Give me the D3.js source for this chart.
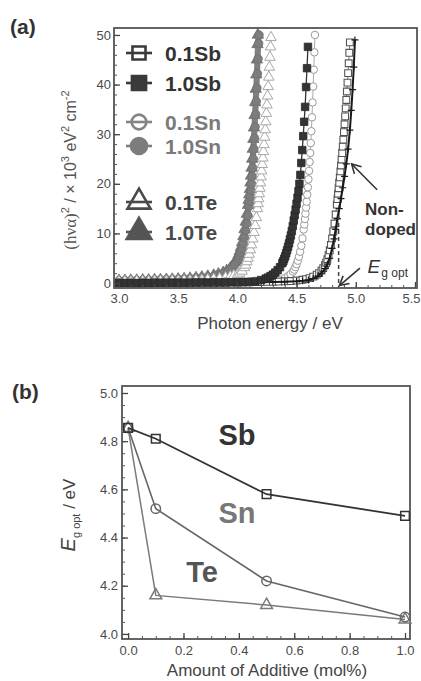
<!DOCTYPE html>
<html>
<head>
<meta charset="utf-8">
<script src="https://cdn.jsdelivr.net/npm/d3@7"></script>
<style>
  body { margin: 0; background: #fff; }
  svg { display: block; }
  text { font-family: "Liberation Sans", Arial, sans-serif; }
</style>
</head>
<body>
<svg id="chart" width="421" height="681"></svg>
<script>
////////////////////////////////////////////////////////////////////////
//
// Data
//
////////////////////////////////////////////////////////////////////////

// panel (a): [photon energy eV, (hva)^2 x 10^3]
var te10Data = [[3.00,0.5],[3.05,0.5],[3.10,0.55],[3.15,0.55],[3.20,0.6],[3.25,0.6],[3.30,0.65],[3.35,0.65],[3.40,0.7],[3.45,0.75],[3.50,0.8],[3.55,0.85],[3.60,0.95],[3.65,1.05],[3.70,1.2],[3.75,1.35],[3.80,1.55],[3.84,1.8],[3.88,2.1],[3.91,2.5],[3.94,3.0],[3.96,3.5],[3.98,4.2],[3.99,4.6],[4.00,5.1],[4.01,5.7],[4.02,6.4],[4.03,7.2],[4.04,8.2],[4.05,9.4],[4.06,10.8],[4.07,12.3],[4.08,13.9],[4.09,15.7],[4.095,16.7],[4.10,17.8],[4.105,18.9],[4.11,20.2],[4.115,21.6],[4.12,23.2],[4.125,25.0],[4.13,27.0],[4.135,29.0],[4.14,31.3],[4.145,33.8],[4.15,36.4],[4.155,39.1],[4.16,42.0],[4.165,45.0],[4.17,48.1],[4.173,50.0]];

var sn10Data = [[3.00,0.5],[3.05,0.5],[3.10,0.5],[3.15,0.55],[3.20,0.55],[3.25,0.6],[3.30,0.6],[3.35,0.65],[3.40,0.7],[3.45,0.7],[3.50,0.75],[3.55,0.8],[3.60,0.9],[3.65,1.0],[3.70,1.1],[3.75,1.25],[3.80,1.4],[3.83,1.6],[3.86,1.8],[3.89,2.0],[3.92,2.3],[3.94,2.6],[3.96,3.1],[3.98,3.7],[4.00,4.4],[4.01,4.9],[4.02,5.5],[4.03,6.2],[4.04,7.0],[4.05,8.0],[4.06,9.2],[4.07,10.6],[4.08,12.0],[4.09,13.6],[4.10,15.5],[4.105,16.5],[4.11,17.5],[4.115,18.7],[4.12,20.0],[4.125,21.5],[4.13,23.2],[4.135,25.0],[4.14,27.0],[4.145,29.2],[4.15,31.5],[4.155,34.0],[4.16,36.6],[4.165,39.3],[4.17,42.2],[4.175,45.2],[4.18,48.3],[4.183,50.0]];

var te01Data = [[3.00,0.3],[3.05,0.3],[3.10,0.3],[3.15,0.35],[3.20,0.35],[3.25,0.35],[3.30,0.4],[3.35,0.4],[3.40,0.4],[3.45,0.45],[3.50,0.45],[3.55,0.5],[3.60,0.5],[3.65,0.55],[3.70,0.6],[3.75,0.7],[3.80,0.8],[3.85,0.9],[3.90,1.1],[3.94,1.3],[3.97,1.5],[4.00,1.7],[4.02,2.0],[4.04,2.4],[4.06,3.1],[4.07,3.6],[4.08,4.3],[4.09,5.0],[4.10,5.8],[4.11,6.7],[4.12,7.7],[4.13,8.9],[4.14,10.2],[4.15,11.6],[4.16,13.2],[4.17,15.0],[4.175,16.0],[4.18,17.0],[4.185,18.0],[4.19,19.1],[4.195,20.2],[4.20,21.4],[4.205,22.6],[4.21,23.9],[4.215,25.2],[4.22,26.5],[4.225,27.9],[4.23,29.4],[4.235,30.9],[4.24,32.5],[4.245,34.2],[4.25,35.9],[4.255,37.7],[4.26,39.6],[4.265,41.5],[4.27,43.5],[4.275,45.5],[4.28,47.6],[4.284,49.5]];

var sn01Data = [[3.00,0.2],[3.10,0.2],[3.20,0.2],[3.30,0.25],[3.40,0.25],[3.50,0.25],[3.60,0.3],[3.70,0.3],[3.80,0.3],[3.90,0.35],[4.00,0.35],[4.05,0.4],[4.10,0.4],[4.15,0.45],[4.20,0.5],[4.25,0.55],[4.30,0.6],[4.35,0.75],[4.40,1.0],[4.43,1.4],[4.45,1.8],[4.47,2.3],[4.48,2.7],[4.49,3.2],[4.50,3.8],[4.51,4.5],[4.52,5.3],[4.53,6.3],[4.54,7.5],[4.55,9.0],[4.56,10.8],[4.565,11.8],[4.57,12.9],[4.575,14.0],[4.58,15.2],[4.585,16.4],[4.59,17.8],[4.595,19.3],[4.60,20.9],[4.605,22.6],[4.61,24.4],[4.615,26.2],[4.62,28.2],[4.625,30.6],[4.63,33.4],[4.635,36.4],[4.64,39.6],[4.645,43.0],[4.65,46.5],[4.655,50.0]];

var sb01Data = [[3.00,0.0],[3.05,0.0],[3.10,0.0],[3.15,0.0],[3.20,0.05],[3.25,0.05],[3.30,0.05],[3.35,0.05],[3.40,0.05],[3.45,0.1],[3.50,0.1],[3.55,0.1],[3.60,0.1],[3.65,0.1],[3.70,0.1],[3.75,0.1],[3.80,0.15],[3.85,0.15],[3.90,0.15],[3.95,0.15],[4.00,0.15],[4.05,0.2],[4.10,0.2],[4.15,0.2],[4.20,0.2],[4.25,0.25],[4.30,0.25],[4.35,0.3],[4.40,0.35],[4.45,0.4],[4.50,0.5],[4.55,0.65],[4.58,0.8],[4.61,1.0],[4.64,1.3],[4.67,1.7],[4.69,2.0],[4.71,2.5],[4.725,3.0],[4.74,3.6],[4.75,4.1],[4.76,4.8],[4.77,5.6],[4.78,6.6],[4.79,7.7],[4.80,9.0],[4.81,10.4],[4.82,12.0],[4.83,13.8],[4.84,15.8],[4.845,16.9],[4.85,18.0],[4.855,19.1],[4.86,20.2],[4.865,21.3],[4.87,22.5],[4.875,23.7],[4.88,24.9],[4.885,26.2],[4.89,27.5],[4.895,28.9],[4.90,30.4],[4.905,32.0],[4.91,33.6],[4.915,35.2],[4.92,36.9],[4.925,38.6],[4.93,40.4],[4.935,42.3],[4.94,44.3],[4.945,46.4],[4.95,48.5]];

var ndData = [[3.00,0.0],[3.10,0.0],[3.20,0.0],[3.30,0.0],[3.40,0.0],[3.50,0.05],[3.60,0.05],[3.70,0.05],[3.80,0.1],[3.90,0.1],[4.00,0.1],[4.10,0.15],[4.20,0.15],[4.30,0.2],[4.40,0.25],[4.50,0.35],[4.55,0.45],[4.60,0.6],[4.64,0.9],[4.68,1.4],[4.71,2.0],[4.74,2.9],[4.76,3.8],[4.78,5.0],[4.80,7.0],[4.816,8.9],[4.83,10.8],[4.845,13.0],[4.86,15.0],[4.875,17.0],[4.89,19.2],[4.905,21.5],[4.92,24.0],[4.935,27.0],[4.95,30.8],[4.962,34.8],[4.973,39.0],[4.983,43.5],[4.993,49.0]];

var sb10Data = [[3.00,0.0],[3.05,0.0],[3.10,0.0],[3.15,0.0],[3.20,0.0],[3.25,0.0],[3.30,0.05],[3.35,0.05],[3.40,0.05],[3.45,0.05],[3.50,0.05],[3.55,0.05],[3.60,0.05],[3.65,0.1],[3.70,0.1],[3.75,0.1],[3.80,0.1],[3.85,0.1],[3.90,0.1],[3.95,0.15],[4.00,0.15],[4.05,0.15],[4.10,0.2],[4.15,0.3],[4.20,0.6],[4.24,0.9],[4.26,1.1],[4.28,1.4],[4.30,1.7],[4.32,2.1],[4.34,2.6],[4.36,3.2],[4.38,4.0],[4.388,4.4],[4.396,4.9],[4.404,5.4],[4.412,6.0],[4.42,6.6],[4.428,7.3],[4.436,8.0],[4.444,8.8],[4.452,9.6],[4.46,10.5],[4.468,11.5],[4.476,12.6],[4.484,13.7],[4.492,14.8],[4.50,16.0],[4.508,17.2],[4.516,18.5],[4.524,20.0],[4.532,21.8],[4.54,24.2],[4.548,26.8],[4.556,29.6],[4.564,32.5],[4.572,35.5],[4.58,39.5],[4.588,43.3],[4.596,47.6]];

// extrapolated optical gap of the non-doped film
var egNonDoped = 4.855;

// panel (a) ticks
var xTicksA = [3.0, 3.5, 4.0, 4.5, 5.0, 5.5];
var yTicksA = [0, 10, 20, 30, 40, 50];

// panel (b): optical gap vs amount of additive
var additive = [0.0, 0.1, 0.5, 1.0];
var egSb = [4.855, 4.81, 4.58, 4.49];
var egSn = [4.855, 4.52, 4.22, 4.07];
var egTe = [4.855, 4.16, 4.12, 4.06];

// panel (b) ticks
var xTicksB = [0.0, 0.2, 0.4, 0.6, 0.8, 1.0];
var yTicksB = [4.0, 4.2, 4.4, 4.6, 4.8, 5.0];

var legendLabels = ["0.1Sb", "1.0Sb", "0.1Sn", "1.0Sn", "0.1Te", "1.0Te"];


////////////////////////////////////////////////////////////////////////
//
// Setup
//
////////////////////////////////////////////////////////////////////////
var svg = d3.select("#chart");

var xA = d3.scaleLinear().domain([2.958, 5.517]).range([114, 417]);
var yA = d3.scaleLinear().domain([-1.0, 51.4]).range([288, 28]);

var xB = d3.scaleLinear().domain([-0.022, 1.018]).range([122, 410]);
var yB = d3.scaleLinear().domain([3.979, 5.029]).range([639, 386]);

var plusPath = "M-3.5,0H3.5M0,-3.5V3.5";

svg.append("defs").append("clipPath").attr("id", "clipA")
  .append("rect").attr("x", 114).attr("y", 28).attr("width", 303).attr("height", 260);

svg.select("defs").append("marker")
  .attr("id", "arrowHead")
  .attr("viewBox", "-10 -6 12 12")
  .attr("markerWidth", 12).attr("markerHeight", 12)
  .attr("markerUnits", "userSpaceOnUse")
  .attr("orient", "auto")
  .append("path")
  .attr("d", "M-9,-5L0,0L-9,5")
  .attr("fill", "none").attr("stroke", "#333").attr("stroke-width", 1.6);


////////////////////////////////////////////////////////////////////////
//
// Axis helper - inward ticks, majors + minors
//
////////////////////////////////////////////////////////////////////////
function drawAxes(xs, ys, xTicks, yTicks, xMinor, yMinor, xFmt, yFmt, xPad, yPad)
  {
  var x0 = xs.range()[0], x1 = xs.range()[1];
  var y0 = ys.range()[0], y1 = ys.range()[1];

  svg.append("g").attr("transform", "translate(0," + y0 + ")")
    .call(d3.axisBottom(xs).tickValues(xMinor).tickSize(-3).tickFormat(""))
    .call(g => g.select(".domain").remove())
    .selectAll("line").attr("stroke", "#555");

  svg.append("g").attr("transform", "translate(" + x0 + ",0)")
    .call(d3.axisLeft(ys).tickValues(yMinor).tickSize(-3).tickFormat(""))
    .call(g => g.select(".domain").remove())
    .selectAll("line").attr("stroke", "#555");

  var gx = svg.append("g").attr("transform", "translate(0," + y0 + ")")
    .call(d3.axisBottom(xs).tickValues(xTicks).tickSize(-6).tickPadding(xPad).tickFormat(xFmt));
  gx.select(".domain").remove();
  gx.selectAll("line").attr("stroke", "#444").attr("stroke-width", 1.3);
  gx.selectAll("text").attr("font-size", 13).attr("fill", "#4a4a4a");

  var gy = svg.append("g").attr("transform", "translate(" + x0 + ",0)")
    .call(d3.axisLeft(ys).tickValues(yTicks).tickSize(-6).tickPadding(yPad).tickFormat(yFmt));
  gy.select(".domain").remove();
  gy.selectAll("line").attr("stroke", "#444").attr("stroke-width", 1.3);
  gy.selectAll("text").attr("font-size", 13).attr("fill", "#4a4a4a");

  svg.append("rect")
    .attr("x", x0).attr("y", y1)
    .attr("width", x1 - x0).attr("height", y0 - y1)
    .attr("fill", "none").attr("stroke", "#555").attr("stroke-width", 1.8);

  return gx;
  }


////////////////////////////////////////////////////////////////////////
//
// Draw one absorption-edge series in panel (a)
//
////////////////////////////////////////////////////////////////////////
function drawEdge(g, data, opt)
  {
  var line = d3.line().x(d => xA(d[0])).y(d => yA(d[1]));

  g.append("path").datum(data)
    .attr("d", line)
    .attr("fill", "none")
    .attr("stroke", opt.lineColor)
    .attr("stroke-width", opt.lineWidth);

  g.selectAll(null).data(data).enter().append("path")
    .attr("transform", d => "translate(" + xA(d[0]) + "," + yA(d[1]) + ")")
    .attr("d", opt.path)
    .attr("fill", opt.fill)
    .attr("stroke", opt.stroke)
    .attr("stroke-width", opt.strokeWidth);
  }


////////////////////////////////////////////////////////////////////////
//
// Panel (a)
//
////////////////////////////////////////////////////////////////////////
var gA = svg.append("g").attr("clip-path", "url(#clipA)");

var sq7 = d3.symbol().type(d3.symbolSquare).size(46)();
var sq7f = d3.symbol().type(d3.symbolSquare).size(56)();
var circ = d3.symbol().type(d3.symbolCircle).size(44)();
var circF = d3.symbol().type(d3.symbolCircle).size(56)();
var tri = d3.symbol().type(d3.symbolTriangle).size(48)();
var triF = d3.symbol().type(d3.symbolTriangle).size(56)();

drawEdge(gA, te10Data, {lineColor: "#7e7e7e", lineWidth: 5, path: triF, fill: "#7a7a7a", stroke: "#6e6e6e", strokeWidth: 0.8});
drawEdge(gA, sn10Data, {lineColor: "#808080", lineWidth: 5, path: circF, fill: "#7d7d7d", stroke: "#707070", strokeWidth: 0.8});
drawEdge(gA, te01Data, {lineColor: "#b5b5b5", lineWidth: 1, path: tri, fill: "#fff", stroke: "#a8a8a8", strokeWidth: 1});
drawEdge(gA, sn01Data, {lineColor: "#aaaaaa", lineWidth: 1, path: circ, fill: "#fff", stroke: "#9a9a9a", strokeWidth: 1});
drawEdge(gA, sb01Data, {lineColor: "#777", lineWidth: 1, path: sq7, fill: "#fff", stroke: "#555", strokeWidth: 1.1});
drawEdge(gA, ndData, {lineColor: "#1a1a1a", lineWidth: 2, path: plusPath, fill: "none", stroke: "#1a1a1a", strokeWidth: 1.2});
drawEdge(gA, sb10Data, {lineColor: "#333", lineWidth: 1.3, path: sq7f, fill: "#333", stroke: "#2a2a2a", strokeWidth: 0.8});

// dashed extrapolation down to the energy axis
svg.append("line")
  .attr("x1", xA(egNonDoped)).attr("x2", xA(egNonDoped))
  .attr("y1", yA(13.5)).attr("y2", yA(-1.0))
  .attr("stroke", "#444").attr("stroke-width", 1.5)
  .attr("stroke-dasharray", "4,3");

var gxA = drawAxes(xA, yA, xTicksA, yTicksA,
  d3.range(3.0, 5.55, 0.1), d3.range(0, 51, 2),
  d3.format(".1f"), d3.format("d"), 6, 3);

// last energy label sits at the very edge, keep it inside the picture
gxA.selectAll(".tick text").filter(d => d === 5.5).attr("dx", -4);

// annotations
svg.append("line")
  .attr("x1", xA(5.18)).attr("y1", yA(18.8))
  .attr("x2", xA(4.965)).attr("y2", yA(24))
  .attr("stroke", "#333").attr("stroke-width", 1.6)
  .attr("marker-end", "url(#arrowHead)");

svg.append("text").attr("x", xA(5.078)).attr("y", yA(13.7))
  .attr("font-size", 17).attr("font-weight", "bold").attr("fill", "#333").text("Non-");
svg.append("text").attr("x", xA(5.078)).attr("y", yA(9.7))
  .attr("font-size", 17).attr("font-weight", "bold").attr("fill", "#333").text("doped");

svg.append("line")
  .attr("x1", xA(5.035)).attr("y1", yA(3.0))
  .attr("x2", xA(4.862)).attr("y2", yA(-0.5))
  .attr("stroke", "#333").attr("stroke-width", 1.6)
  .attr("marker-end", "url(#arrowHead)");

var egLbl = svg.append("text").attr("x", xA(5.1)).attr("y", yA(2.0)).attr("fill", "#333");
egLbl.append("tspan").attr("font-size", 19).attr("font-style", "italic").text("E");
egLbl.append("tspan").attr("font-size", 12).attr("dy", 4).attr("dx", 1).text("g opt");

// legend
var legendRows = [
  {y: 53, path: d3.symbol().type(d3.symbolSquare).size(170)(), fill: "#fff", stroke: "#3a3a3a", text: "#333"},
  {y: 83, path: d3.symbol().type(d3.symbolSquare).size(200)(), fill: "#3a3a3a", stroke: "#3a3a3a", text: "#333"},
  {y: 122, path: d3.symbol().type(d3.symbolCircle).size(170)(), fill: "#fff", stroke: "#848484", text: "#7a7a7a"},
  {y: 146, path: d3.symbol().type(d3.symbolCircle).size(200)(), fill: "#7d7d7d", stroke: "#7d7d7d", text: "#7a7a7a"},
  {y: 202, path: d3.symbol().type(d3.symbolTriangle).size(230)(), fill: "#fff", stroke: "#4a4a4a", text: "#444"},
  {y: 232, path: d3.symbol().type(d3.symbolTriangle).size(260)(), fill: "#555", stroke: "#555", text: "#4a4a4a"}
];

var leg = svg.append("g");
legendRows.forEach(function(r, i)
  {
  leg.append("path")
    .attr("transform", "translate(139," + r.y + ")")
    .attr("d", r.path)
    .attr("fill", r.fill).attr("stroke", r.stroke).attr("stroke-width", 2.6);
  // line goes through the symbol, visible inside the open ones
  leg.append("line")
    .attr("x1", 126).attr("x2", 152).attr("y1", r.y).attr("y2", r.y)
    .attr("stroke", r.stroke).attr("stroke-width", 2.6);
  leg.append("text")
    .attr("x", 165).attr("y", r.y + 8)
    .attr("font-size", 21).attr("font-weight", "bold").attr("fill", r.text)
    .text(legendLabels[i]);
  });

// axis titles
svg.append("text").attr("x", 270).attr("y", 329).attr("text-anchor", "middle")
  .attr("font-size", 17).attr("fill", "#444").text("Photon energy / eV");

var yTitleA = svg.append("text")
  .attr("transform", "translate(76,170) rotate(-90)")
  .attr("text-anchor", "middle").attr("font-size", 16).attr("fill", "#555");
yTitleA.append("tspan").attr("font-family", "'Liberation Serif', serif").attr("font-size", 17).text("(hνα)");
yTitleA.append("tspan").attr("font-size", 11).attr("dy", -7).text("2");
yTitleA.append("tspan").attr("dy", 7).text(" / × 10");
yTitleA.append("tspan").attr("font-size", 11).attr("dy", -7).text("3");
yTitleA.append("tspan").attr("dy", 7).text(" eV");
yTitleA.append("tspan").attr("font-size", 11).attr("dy", -7).text("2");
yTitleA.append("tspan").attr("dy", 7).text(" cm");
yTitleA.append("tspan").attr("font-size", 11).attr("dy", -7).text("-2");

svg.append("text").attr("x", 10).attr("y", 34)
  .attr("font-size", 21).attr("font-weight", "bold").attr("fill", "#333").text("(a)");


////////////////////////////////////////////////////////////////////////
//
// Panel (b)
//
////////////////////////////////////////////////////////////////////////
drawAxes(xB, yB, xTicksB, yTicksB,
  d3.range(0, 1.01, 0.05), d3.range(4.0, 5.01, 0.05),
  d3.format(".1f"), d3.format(".1f"), 7, 4);

var seriesB = [
  {vals: egTe, color: "#7a7a7a", path: d3.symbol().type(d3.symbolTriangle).size(60)(), width: 1.5},
  {vals: egSn, color: "#666", path: d3.symbol().type(d3.symbolCircle).size(70)(), width: 1.6},
  {vals: egSb, color: "#333", path: d3.symbol().type(d3.symbolSquare).size(75)(), width: 1.8}
];

seriesB.forEach(function(s)
  {
  var pts = additive.map((a, i) => [a, s.vals[i]]);
  svg.append("path").datum(pts)
    .attr("d", d3.line().x(d => xB(d[0])).y(d => yB(d[1])))
    .attr("fill", "none").attr("stroke", s.color).attr("stroke-width", s.width);
  svg.selectAll(null).data(pts).enter().append("path")
    .attr("transform", d => "translate(" + xB(d[0]) + "," + yB(d[1]) + ")")
    .attr("d", s.path)
    .attr("fill", "none").attr("stroke", s.color).attr("stroke-width", 1.5);
  });

svg.append("text").attr("x", 237).attr("y", 445).attr("text-anchor", "middle")
  .attr("font-size", 29).attr("font-weight", "bold").attr("fill", "#333").text("Sb");
svg.append("text").attr("x", 237).attr("y", 523).attr("text-anchor", "middle")
  .attr("font-size", 29).attr("font-weight", "bold").attr("fill", "#777").text("Sn");
svg.append("text").attr("x", 202).attr("y", 582).attr("text-anchor", "middle")
  .attr("font-size", 29).attr("font-weight", "bold").attr("fill", "#555").text("Te");

svg.append("text").attr("x", 267).attr("y", 676).attr("text-anchor", "middle")
  .attr("font-size", 17).attr("fill", "#444").text("Amount of Additive (mol%)");

var yTitleB = svg.append("text")
  .attr("transform", "translate(75,515) rotate(-90)")
  .attr("text-anchor", "middle").attr("fill", "#444");
yTitleB.append("tspan").attr("font-size", 20).attr("font-style", "italic").text("E");
yTitleB.append("tspan").attr("font-size", 11).attr("dy", 5).text("g opt");
yTitleB.append("tspan").attr("font-size", 17).attr("dy", -5).text("  / eV");

svg.append("text").attr("x", 12).attr("y", 399)
  .attr("font-size", 21).attr("font-weight", "bold").attr("fill", "#333").text("(b)");
</script>
</body>
</html>
